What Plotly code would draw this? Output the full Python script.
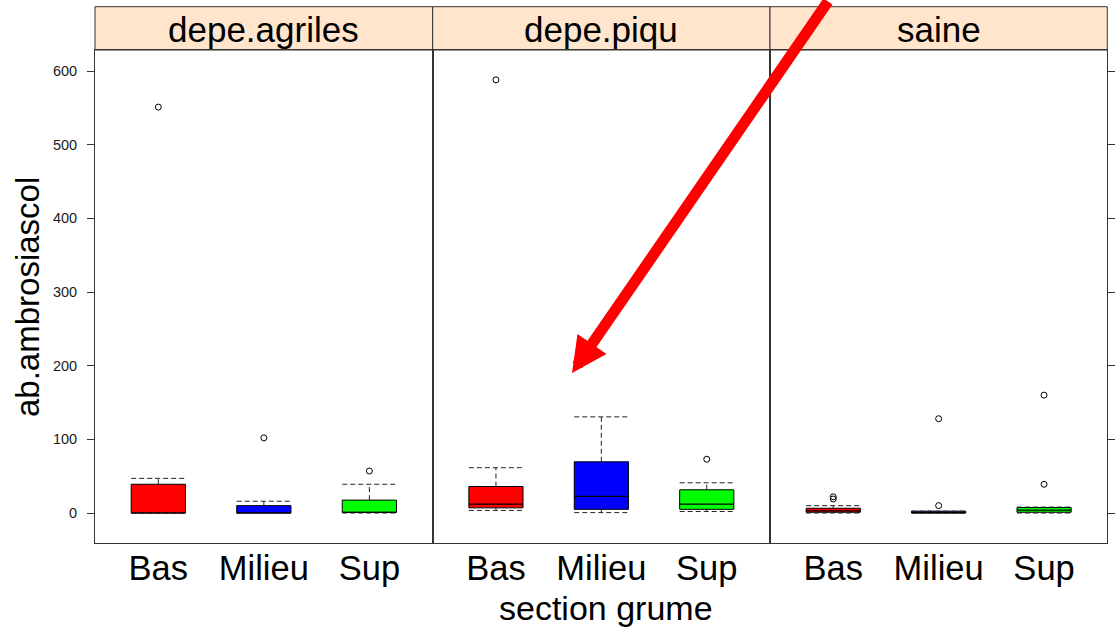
import plotly.graph_objects as go

# ---------------- data ----------------
panels = ["depe.agriles", "depe.piqu", "saine"]
groups = ["Bas", "Milieu", "Sup"]
colors = ["#FF0000", "#0000FF", "#00FF00"]

# per panel: one value for each group (Bas, Milieu, Sup)
agriles_low = [0, 0, 0]
agriles_q1 = [0, 0, 1]
agriles_med = [0, 0, 1]
agriles_q3 = [39, 10, 17.5]
agriles_high = [47, 16, 39]
agriles_out = [[551], [102], [57]]

piqu_low = [3.5, 0.5, 2]
piqu_q1 = [7, 5, 5]
piqu_med = [12, 22.5, 12]
piqu_q3 = [36, 69.5, 31.5]
piqu_high = [61.5, 130.5, 41]
piqu_out = [[588], [], [73]]

saine_low = [0, 0, 0]
saine_q1 = [1, 0, 1]
saine_med = [3, 0.5, 4]
saine_q3 = [6.5, 2.5, 7.5]
saine_high = [10, 2.5, 8]
saine_out = [[19, 22], [10, 128], [39, 160]]

y_ticks = [0, 100, 200, 300, 400, 500, 600]

stats = [
    (agriles_low, agriles_q1, agriles_med, agriles_q3, agriles_high, agriles_out),
    (piqu_low, piqu_q1, piqu_med, piqu_q3, piqu_high, piqu_out),
    (saine_low, saine_q1, saine_med, saine_q3, saine_high, saine_out),
]

# ---------------- layout constants ----------------
W, H = 1115, 627
FONT = "Liberation Sans, Arial, sans-serif"
px_x = [95, 432.7, 770, 1107.3]
y_bot_px, y_top_px, strip_top_px = 542.7, 50, 6.7
def fx(p): return p / W
def fy(p): return (H - p) / H

half = 0.257
fig = go.Figure()

for i, (low, q1, med, q3, high, outs) in enumerate(stats):
    xa = "x" if i == 0 else f"x{i+1}"
    ya = "y" if i == 0 else f"y{i+1}"
    for g in range(3):
        xc = g + 1
        # box
        fig.add_trace(go.Scatter(
            x=[xc - half, xc + half, xc + half, xc - half, xc - half],
            y=[q1[g], q1[g], q3[g], q3[g], q1[g]],
            mode="lines", fill="toself", fillcolor=colors[g],
            line=dict(color="black", width=1), xaxis=xa, yaxis=ya,
            hoverinfo="skip", showlegend=False))
        # whiskers (dashed)
        wx = [xc, xc, None, xc - half, xc + half, None, xc, xc, None, xc - half, xc + half]
        wy = [q3[g], high[g], None, high[g], high[g], None, q1[g], low[g], None, low[g], low[g]]
        fig.add_trace(go.Scatter(
            x=wx, y=wy, mode="lines",
            line=dict(color="#222222", width=1, dash="5px,3px"),
            xaxis=xa, yaxis=ya, hoverinfo="skip", showlegend=False))
        # median
        fig.add_trace(go.Scatter(
            x=[xc - half, xc + half], y=[med[g], med[g]], mode="lines",
            line=dict(color="black", width=1.2), xaxis=xa, yaxis=ya,
            hoverinfo="skip", showlegend=False))
        # outliers
        if outs[g]:
            fig.add_trace(go.Scatter(
                x=[xc] * len(outs[g]), y=outs[g], mode="markers",
                marker=dict(symbol="circle-open", size=6, color="black",
                            line=dict(width=1, color="black")),
                xaxis=xa, yaxis=ya, hoverinfo="skip", showlegend=False))

yrange = [-40.3, 628.5]
layout = dict(
    width=W, height=H, margin=dict(l=0, r=0, t=0, b=0),
    plot_bgcolor="white", paper_bgcolor="white",
    font=dict(family=FONT, color="black"),
    showlegend=False,
)
for i in range(3):
    xk = "xaxis" if i == 0 else f"xaxis{i+1}"
    yk = "yaxis" if i == 0 else f"yaxis{i+1}"
    layout[xk] = dict(
        domain=[fx(px_x[i]), fx(px_x[i + 1])], range=[0.4, 3.6],
        tickmode="array", tickvals=[1, 2, 3], ticktext=groups,
        tickfont=dict(size=34.5, family=FONT, color="black"),
        ticks="", showgrid=False, zeroline=False,
        showline=True, mirror=True, linecolor="#333333", linewidth=1,
        anchor="y" if i == 0 else f"y{i+1}", automargin=False,
        ticklabelstandoff=-5,
    )
    ydict = dict(
        domain=[fy(y_bot_px), fy(y_top_px)], range=yrange,
        showgrid=False, zeroline=False,
        showline=True, mirror=True, linecolor="#333333", linewidth=1,
        anchor="x" if i == 0 else f"x{i+1}", automargin=False,
        tickmode="array", tickvals=y_ticks,
    )
    if i == 0:
        ydict.update(ticks="outside", ticklen=7, tickcolor="#333333",
                     tickfont=dict(size=14.5, family=FONT, color="#1a1a1a"),
                     ticklabelstandoff=7, side="left")
    elif i == 2:
        ydict.update(ticks="outside", ticklen=8, tickcolor="#333333",
                     showticklabels=False, side="right")
    else:
        ydict.update(ticks="", showticklabels=False)
    layout[yk] = ydict

shapes = []
annotations = []
for i, name in enumerate(panels):
    shapes.append(dict(type="rect", xref="paper", yref="paper",
                       x0=fx(px_x[i]), x1=fx(px_x[i + 1]),
                       y0=fy(y_top_px), y1=fy(strip_top_px),
                       fillcolor="#FFE5CC", line=dict(color="#333333", width=1),
                       layer="below"))
    annotations.append(dict(text=name, xref="paper", yref="paper",
                            x=fx((px_x[i] + px_x[i + 1]) / 2),
                            y=fy((y_top_px + strip_top_px) / 2 + 1.5),
                            xanchor="center", yanchor="middle", showarrow=False,
                            font=dict(size=35, family=FONT, color="black")))

annotations.append(dict(text="section grume", xref="paper", yref="paper",
                        x=fx(606), y=fy(608), xanchor="center", yanchor="middle",
                        showarrow=False, font=dict(size=34, family=FONT, color="black")))
annotations.append(dict(text="ab.ambrosiascol", xref="paper", yref="paper",
                        x=fx(27), y=fy(297), xanchor="center", yanchor="middle",
                        textangle=-90, showarrow=False,
                        font=dict(size=33, family=FONT, color="black")))
# red arrow
annotations.append(dict(text="", xref="paper", yref="paper",
                        x=fx(572), y=fy(373), ax=257, ay=-393,
                        showarrow=True, arrowhead=2, arrowsize=0.64, arrowwidth=11,
                        arrowcolor="#FF0000", standoff=0))

layout["shapes"] = shapes
layout["annotations"] = annotations
fig.update_layout(**layout)
fig.write_html("out.html", config={"displayModeBar": False},
               post_script="document.body.style.margin='0';document.body.style.overflow='hidden';")
